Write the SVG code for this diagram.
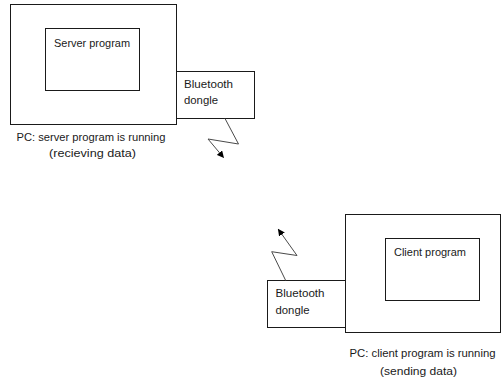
<svg xmlns="http://www.w3.org/2000/svg" width="501" height="383" viewBox="0 0 501 383">
  <style>
    .box { fill: #ffffff; stroke: #1a1a1a; stroke-width: 1; }
    .lbl { font-family: "Liberation Sans", Arial, sans-serif; font-size: 11px; fill: #1a1a1a; }
    .link { fill: none; stroke: #4a4a4a; stroke-width: 1; }
  </style>
  <defs>
    <marker id="arrow" viewBox="0 0 10 10" refX="9" refY="5" markerWidth="7" markerHeight="7" markerUnits="userSpaceOnUse" orient="auto">
      <path d="M0,0 L10,5 L0,10 Z" fill="#000000"/>
    </marker>
  </defs>
  <rect width="501" height="383" fill="#ffffff"/>

  <!-- Server side -->
  <g id="server-pc">
    <rect class="box" x="10.5" y="4.5" width="166" height="120"/>
    <text class="lbl" x="16.5" y="141" textLength="149" lengthAdjust="spacingAndGlyphs">PC: server program is running</text>
    <text class="lbl" x="49" y="156.5" textLength="87" lengthAdjust="spacingAndGlyphs">(recieving data)</text>
  </g>
  <g id="server-program">
    <rect class="box" x="45.5" y="28.5" width="94" height="62"/>
    <text class="lbl" x="54" y="46.5" textLength="76" lengthAdjust="spacingAndGlyphs">Server program</text>
  </g>
  <g id="server-dongle">
    <rect class="box" x="176.5" y="71.5" width="78" height="47"/>
    <text class="lbl" x="184" y="88" textLength="49" lengthAdjust="spacingAndGlyphs">Bluetooth</text>
    <text class="lbl" x="184" y="104" textLength="34" lengthAdjust="spacingAndGlyphs">dongle</text>
  </g>

  <!-- Client side -->
  <g id="client-pc">
    <rect class="box" x="345.5" y="214.5" width="155" height="118"/>
    <text class="lbl" x="349.5" y="357" textLength="146" lengthAdjust="spacingAndGlyphs">PC: client program is running</text>
    <text class="lbl" x="380" y="374.5" textLength="77" lengthAdjust="spacingAndGlyphs">(sending data)</text>
  </g>
  <g id="client-program">
    <rect class="box" x="385.5" y="238.5" width="94" height="62"/>
    <text class="lbl" x="394" y="255.5" textLength="72" lengthAdjust="spacingAndGlyphs">Client program</text>
  </g>
  <g id="client-dongle">
    <rect class="box" x="267.5" y="280.5" width="78" height="47"/>
    <text class="lbl" x="275.5" y="297" textLength="49" lengthAdjust="spacingAndGlyphs">Bluetooth</text>
    <text class="lbl" x="275.5" y="313.5" textLength="34" lengthAdjust="spacingAndGlyphs">dongle</text>
  </g>

  <!-- Wireless links -->
  <g id="connectors">
    <polyline class="link" points="225,118.5 238.5,144 208,139 223.5,157.5" marker-end="url(#arrow)"/>
    <polyline class="link" points="285.7,280.5 271.7,251.7 297,255.5 278.3,229.3" marker-end="url(#arrow)"/>
  </g>
</svg>
